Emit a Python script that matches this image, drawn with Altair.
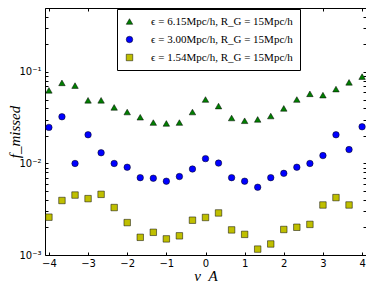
import altair as alt
import pandas as pd

nu = [-4.0, -3.667, -3.333, -3.0, -2.667, -2.333, -2.0, -1.667, -1.333, -1.0,
      -0.667, -0.333, 0.0, 0.333, 0.667, 1.0, 1.333, 1.667, 2.0, 2.333,
      2.667, 3.0, 3.333, 3.667, 4.0]

green = [0.063, 0.076, 0.071, 0.049, 0.049, 0.041, 0.0365, 0.032, 0.028, 0.0274,
         0.028, 0.0365, 0.050, 0.0424, 0.0314, 0.0293, 0.0303, 0.033, 0.040, 0.050,
         0.0577, 0.0558, 0.065, 0.077, 0.089]

blue = [0.0248, 0.0324, 0.0100, 0.0206, 0.0131, 0.0100, 0.0091, 0.0070, 0.0069, 0.0064,
        0.0072, 0.0087, 0.0113, 0.0101, 0.0070, 0.0064, 0.0055, 0.0070, 0.0078, 0.0091,
        0.0100, 0.0122, 0.0206, 0.0142, 0.0252]

yellow = [0.00259, 0.00394, 0.00452, 0.00413, 0.0046, 0.0033, 0.00226, 0.00156, 0.00177, 0.0015,
          0.00162, 0.0024, 0.00257, 0.00288, 0.00188, 0.00168, 0.00116, 0.00132, 0.0019, 0.00201,
          0.00216, 0.00352, 0.00424, 0.00352]

labels = ["ϵ = 6.15Mpc/h, R_G = 15Mpc/h",
          "ϵ = 3.00Mpc/h, R_G = 15Mpc/h",
          "ϵ = 1.54Mpc/h, R_G = 15Mpc/h"]
colors = ["#007f00", "#0000ff", "#bfbf00"]
shapes = ["triangle-up", "circle", "square"]

x_ticks = [-4, -3, -2, -1, 0, 1, 2, 3, 4]
y_ticks = [0.001, 0.002, 0.003, 0.004, 0.005, 0.006, 0.007, 0.008, 0.009,
           0.01, 0.02, 0.03, 0.04, 0.05, 0.06, 0.07, 0.08, 0.09,
           0.1, 0.2, 0.3, 0.4, 0.5]

rows = []
for series, lab in zip([green, blue, yellow], labels):
    for x, v in zip(nu, series):
        rows.append({"nu": x, "f": v, "series": lab})
df = pd.DataFrame(rows)

xscale = alt.Scale(domain=[-4.1, 4.1], nice=False, zero=False)
yscale = alt.Scale(type="log", domain=[0.001, 0.5], nice=False)

ylabel_expr = ("datum.value == 0.1 ? '10⁻¹' : datum.value == 0.01 ? '10⁻²' : "
               "datum.value == 0.001 ? '10⁻³' : ''")

common_axis = dict(domain=False, tickSize=3, offset=-3, tickColor="black",
                   labelFont="DejaVu Sans", labelFontSize=10, labelColor="black",
                   labelFlush=False, grid=False)

title_style = dict(titleFont="Liberation Serif, DejaVu Serif", titleFontSize=15,
                   titleFontWeight="normal", titleFontStyle="italic",
                   titleColor="black")

legend = alt.Legend(title=None, orient="none", legendX=72, legendY=1,
                    fillColor="white", strokeColor="black", padding=7,
                    labelFont="Liberation Serif, DejaVu Serif", labelFontSize=11,
                    labelColor="black", labelLimit=0,
                    symbolSize=42, rowPadding=6, symbolStrokeWidth=0.5,
                    symbolStrokeColor="black", cornerRadius=0, labelOffset=16)

points = alt.Chart(df).mark_point(filled=True, size=42, stroke="black",
                                  strokeWidth=0.5, opacity=1).encode(
    x=alt.X("nu:Q", scale=xscale,
            axis=alt.Axis(values=x_ticks, title="ν_A", titleBaseline="alphabetic",
                          titleY=28, labelPadding=3, **title_style, **common_axis)),
    y=alt.Y("f:Q", scale=yscale,
            axis=alt.Axis(values=y_ticks, labelExpr=ylabel_expr, title="f_missed",
                          titleBaseline="middle", titleX=-34, labelPadding=4,
                          **title_style, **common_axis)),
    color=alt.Color("series:N", scale=alt.Scale(domain=labels, range=colors), legend=legend),
    shape=alt.Shape("series:N", scale=alt.Scale(domain=labels, range=shapes), legend=legend),
)

frame = alt.Chart(df).mark_point(opacity=0).encode(
    x=alt.X("nu:Q", scale=xscale,
            axis=alt.Axis(orient="top", values=x_ticks, labels=False, title=None,
                          **common_axis)),
    y=alt.Y("f:Q", scale=yscale,
            axis=alt.Axis(orient="right", values=y_ticks, labels=False, title=None,
                          **common_axis)),
)

chart = alt.layer(points, frame).resolve_axis(
    x="independent", y="independent"
).properties(
    width=321, height=247,
    padding={"left": 37, "top": 0, "right": 0, "bottom": 27},
    autosize=alt.AutoSizeParams(type="none"),
).configure_view(stroke="black", strokeWidth=1)

chart.save("out.html", embed_options={"renderer": "svg", "actions": False})
